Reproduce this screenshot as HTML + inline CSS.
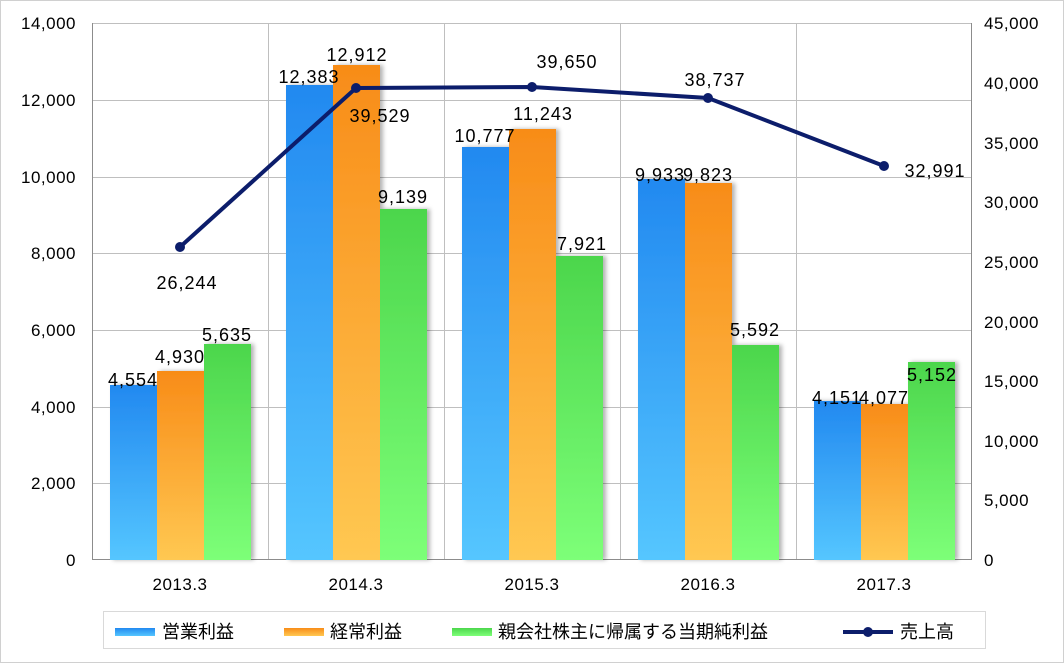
<!DOCTYPE html>
<html><head><meta charset="utf-8"><style>
html,body{margin:0;padding:0;background:#fff}
svg{display:block}
text{font-family:"Liberation Sans","Noto Sans CJK JP",sans-serif;fill:#000}
</style></head><body>
<svg width="1064" height="663" viewBox="0 0 1064 663" xmlns="http://www.w3.org/2000/svg">
<defs>
<linearGradient id="gb" x1="0" y1="0" x2="0" y2="1"><stop offset="0" stop-color="#2289f0"/><stop offset="1" stop-color="#55c6ff"/></linearGradient>
<linearGradient id="go" x1="0" y1="0" x2="0" y2="1"><stop offset="0" stop-color="#f88c18"/><stop offset="1" stop-color="#ffc852"/></linearGradient>
<linearGradient id="gg" x1="0" y1="0" x2="0" y2="1"><stop offset="0" stop-color="#4cd64c"/><stop offset="1" stop-color="#7dff78"/></linearGradient>
<filter id="sh" x="-20%" y="-5%" width="140%" height="110%"><feDropShadow dx="3" dy="0" stdDeviation="2" flood-color="#000" flood-opacity="0.3"/></filter>
</defs>
<rect x="0.5" y="0.5" width="1063" height="662" fill="#fff" stroke="#d0d0d0"/>
<g stroke="#bfbfbf" stroke-width="1">
<line x1="92" y1="23.5" x2="972" y2="23.5"/><line x1="92" y1="100.5" x2="972" y2="100.5"/>
<line x1="92" y1="177.5" x2="972" y2="177.5"/><line x1="92" y1="253.5" x2="972" y2="253.5"/>
<line x1="92" y1="330.5" x2="972" y2="330.5"/><line x1="92" y1="407.5" x2="972" y2="407.5"/>
<line x1="92" y1="483.5" x2="972" y2="483.5"/>
<line x1="268.5" y1="23" x2="268.5" y2="560"/><line x1="444.5" y1="23" x2="444.5" y2="560"/>
<line x1="620.5" y1="23" x2="620.5" y2="560"/><line x1="796.5" y1="23" x2="796.5" y2="560"/>
</g>
<g stroke="#8c8c8c"><line x1="92.5" y1="23" x2="92.5" y2="560"/><line x1="971.5" y1="23" x2="971.5" y2="560"/><line x1="92" y1="559.5" x2="972" y2="559.5"/></g>
<g filter="url(#sh)">
<rect x="110" y="385" width="47" height="175" fill="url(#gb)"/>
<rect x="157" y="371" width="47" height="189" fill="url(#go)"/>
<rect x="204" y="344" width="47" height="216" fill="url(#gg)"/>
<rect x="286" y="85" width="47" height="475" fill="url(#gb)"/>
<rect x="333" y="65" width="47" height="495" fill="url(#go)"/>
<rect x="380" y="209" width="47" height="351" fill="url(#gg)"/>
<rect x="462" y="147" width="47" height="413" fill="url(#gb)"/>
<rect x="509" y="129" width="47" height="431" fill="url(#go)"/>
<rect x="556" y="256" width="47" height="304" fill="url(#gg)"/>
<rect x="638" y="179" width="47" height="381" fill="url(#gb)"/>
<rect x="685" y="183" width="47" height="377" fill="url(#go)"/>
<rect x="732" y="345" width="47" height="215" fill="url(#gg)"/>
<rect x="814" y="401" width="47" height="159" fill="url(#gb)"/>
<rect x="861" y="404" width="47" height="156" fill="url(#go)"/>
<rect x="908" y="362" width="47" height="198" fill="url(#gg)"/>
</g>
<g font-size="17" text-anchor="end" letter-spacing="0.5">
<text x="76" y="29">14,000</text><text x="76" y="106">12,000</text><text x="76" y="183">10,000</text>
<text x="76" y="259">8,000</text><text x="76" y="336">6,000</text><text x="76" y="413">4,000</text>
<text x="76" y="489">2,000</text><text x="76" y="566">0</text>
</g>
<g font-size="17" text-anchor="start" letter-spacing="0.5">
<text x="984" y="29">45,000</text><text x="984" y="89">40,000</text><text x="984" y="149">35,000</text>
<text x="984" y="208">30,000</text><text x="984" y="268">25,000</text><text x="984" y="328">20,000</text>
<text x="984" y="387">15,000</text><text x="984" y="447">10,000</text><text x="984" y="506">5,000</text>
<text x="984" y="566">0</text>
</g>
<g font-size="17" text-anchor="middle" letter-spacing="0.5">
<text x="180" y="590">2013.3</text><text x="356" y="590">2014.3</text><text x="532" y="590">2015.3</text>
<text x="708" y="590">2016.3</text><text x="884" y="590">2017.3</text>
</g>
<polyline points="180,247 356,88 532,87 708,98 884,166" fill="none" stroke="#0c1d6b" stroke-width="4"/>
<g fill="#0c1d6b"><circle cx="180" cy="247" r="5"/><circle cx="356" cy="88" r="5"/><circle cx="532" cy="87" r="5"/><circle cx="708" cy="98" r="5"/><circle cx="884" cy="166" r="5"/></g>
<g font-size="18" text-anchor="middle" letter-spacing="1">
<text x="133" y="386">4,554</text><text x="180" y="363">4,930</text><text x="227" y="341">5,635</text>
<text x="309" y="83">12,383</text><text x="357" y="61">12,912</text><text x="403" y="203">9,139</text>
<text x="485" y="142">10,777</text><text x="543" y="120">11,243</text><text x="582" y="250">7,921</text>
<text x="660" y="181">9,933</text><text x="708" y="181">9,823</text><text x="755" y="336">5,592</text>
<text x="837" y="404">4,151</text><text x="884" y="404">4,077</text><text x="932" y="381">5,152</text>
<text x="187" y="289">26,244</text><text x="380" y="122">39,529</text><text x="567" y="68">39,650</text>
<text x="715" y="86">38,737</text><text x="935" y="177">32,991</text>
</g>
<rect x="103.5" y="611.5" width="882" height="37" fill="#fff" stroke="#d9d9d9"/>
<rect x="115" y="628" width="40" height="8" fill="url(#gb)"/>
<rect x="284" y="628" width="40" height="8" fill="url(#go)"/>
<rect x="452" y="628" width="40" height="8" fill="url(#gg)"/>
<line x1="843" y1="632" x2="893" y2="632" stroke="#0c1d6b" stroke-width="4"/>
<circle cx="868" cy="632" r="5" fill="#0c1d6b"/>
<g font-size="18">
<text x="162" y="638">営業利益</text><text x="330" y="638">経常利益</text>
<text x="498" y="638">親会社株主に帰属する当期純利益</text><text x="900" y="638">売上高</text>
</g>
</svg>
</body></html>
